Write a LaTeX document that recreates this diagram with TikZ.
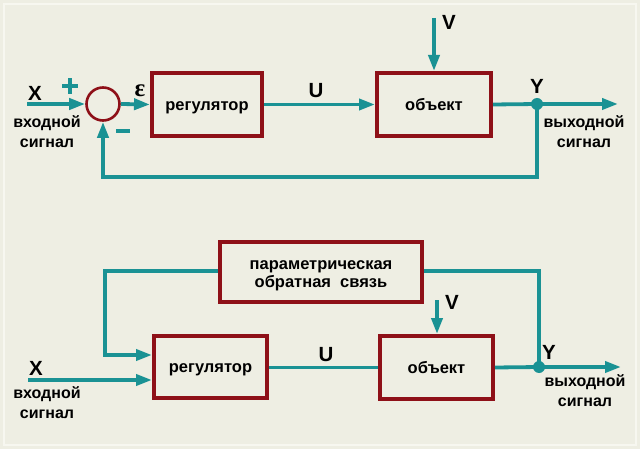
\documentclass[tikz,border=0pt]{standalone}
\usepackage{fontspec}
\setmainfont{Liberation Sans}
\newfontfamily\grserif{Liberation Serif}
\usetikzlibrary{arrows.meta}
\definecolor{bg}{HTML}{EEEEE3}
\definecolor{frameline}{HTML}{F7F7F0}
\definecolor{boxred}{HTML}{8E1018}
\definecolor{teal}{HTML}{1A9294}
\begin{document}
\begin{tikzpicture}[x=1pt,y=-1pt,
  blk/.style={draw=boxred,line width=4pt,fill=bg,minimum width=#1,font=\bfseries\fontsize{16.5}{18}\selectfont,inner sep=0pt},
  onetext/.style={text height=12pt,text depth=0pt},
  boxtext/.style={font=\bfseries\fontsize{16.5}{18}\selectfont,align=center,inner sep=0pt},
  sig/.style={teal,line width=3.8pt},
  arr/.style={sig,-{Triangle[length=16pt,width=11pt]}},
  lbl/.style={font=\bfseries\fontsize{20.5}{20}\selectfont,inner sep=0pt},
  sub/.style={font=\bfseries\fontsize{16}{20}\selectfont,align=center,inner sep=0pt},
  dot/.style={circle,fill=teal,minimum size=12pt,inner sep=0pt}]
\fill[bg] (0,0) rectangle (640,449);
\draw[frameline,line width=1.2pt] (4,4) rectangle (636,445);
% ---------- top diagram ----------
\node[blk=110pt,minimum height=63pt,onetext] (reg1) at (207,104.5) {регулятор};
\node[blk=114pt,minimum height=63pt,onetext] (obj1) at (434,104.5) {объект};
\node[circle,draw=boxred,line width=2.6pt,minimum size=33pt,inner sep=0pt] (sum) at (103,104) {};
\coordinate (xin1) at (27,104);
\coordinate (vin1) at (434,18);
\node[dot] (y1) at (537,104) {};
\coordinate (out1) at (618,104);
\coordinate (fb1) at (537,177);
\coordinate (fb2) at (103,177);
\draw[arr] (xin1) -- (sum.west);
\draw[arr] (sum.east) -- (reg1.west);
\draw[arr] (reg1.east) -- (obj1.west);
\draw[arr] (vin1) -- (obj1.north);
\draw[sig] (obj1.east) -- (y1.center);
\draw[arr] (y1.center) -- (out1);
\draw[arr] (y1.center) -- (fb1) -- (fb2) -- (sum.south);
\node[lbl] (x1) at (35,93) {X};
\node[sub] (xs1) at (47,132) {входной\\сигнал};
\node[teal,inner sep=0pt] (plus) at (70,86) {\rule[-2.5pt]{4.5pt}{16pt}\llap{\rule[3.25pt]{16pt}{4.5pt}\kern-5.75pt}};
\node[teal,inner sep=0pt] (minus) at (123,131) {\rule{14pt}{4.5pt}};
\node[font=\grserif\bfseries\fontsize{25}{25}\selectfont,inner sep=0pt] (eps) at (140,91) {ε};
\node[lbl] (u1) at (316,91) {U};
\node[lbl] (v1) at (449,22) {V};
\node[lbl] (ylab1) at (537,86) {Y};
\node[sub] (ys1) at (584,132) {выходной\\сигнал};
% ---------- bottom diagram ----------
\node[blk=202pt,minimum height=60pt,label={[boxtext,yshift=-4pt]center:{параметрическая\\обратная\ \ связь}}] (par) at (321,272) {};
\node[blk=113pt,minimum height=62pt,onetext] (reg2) at (210.5,366.5) {регулятор};
\node[blk=113pt,minimum height=63pt,onetext] (obj2) at (436.5,367.5) {объект};
\coordinate (xin2) at (28,380);
\coordinate (vin2) at (437,300);
\node[dot] (y2) at (539,367) {};
\coordinate (out2) at (621,367);
\coordinate (pl1) at (105,271);
\coordinate (pl2) at (105,355);
\coordinate (pr1) at (539,271);
\draw[arr] (xin2) -- (xin2 -| reg2.west);
\draw[arr] (par.west |- pl1) -- (pl1) -- (pl2) -- (pl2 -| reg2.west);
\draw[sig] (reg2.east |- obj2.west) -- (obj2.west);
\draw[arr] (vin2) -- (obj2.north -| vin2);
\draw[sig] (obj2.east) -- (y2.center);
\draw[arr] (y2.center) -- (out2);
\draw[sig] (y2.center) -- (pr1) -- (par.east |- pr1);
\node[lbl] (x2) at (36,368) {X};
\node[sub] (xs2) at (47,403) {входной\\сигнал};
\node[lbl] (u2) at (326,355) {U};
\node[lbl] (v2) at (452,302) {V};
\node[lbl] (ylab2) at (549,352) {Y};
\node[sub] (ys2) at (585,391) {выходной\\сигнал};
\end{tikzpicture}
\end{document}
